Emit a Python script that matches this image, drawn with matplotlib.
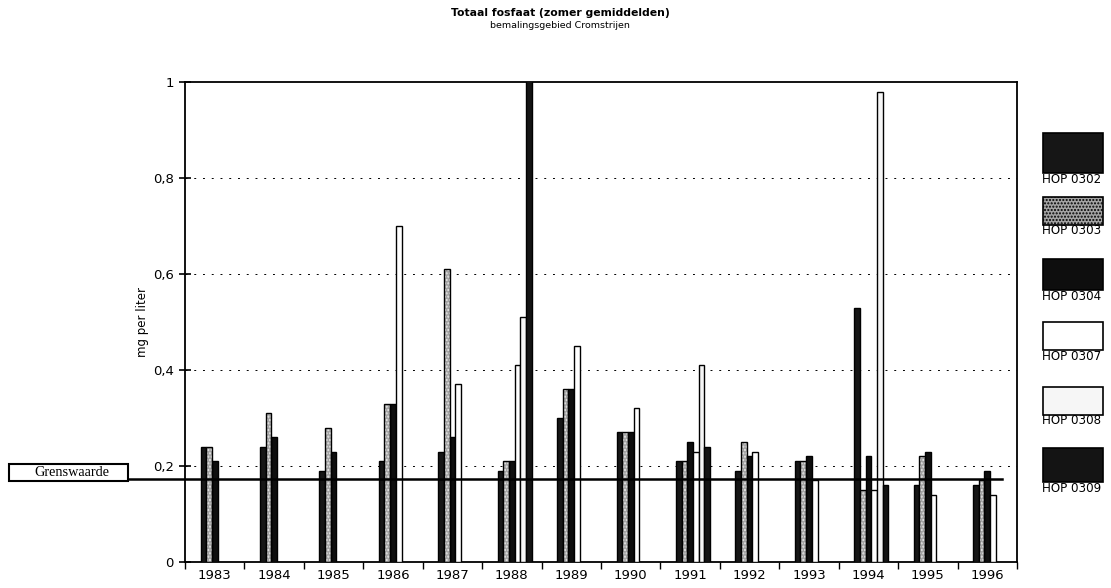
import numpy as np
import matplotlib
matplotlib.use("Agg")
import matplotlib.pyplot as plt
from matplotlib.patches import Rectangle

nan = np.nan
years = ['1983', '1984', '1985', '1986', '1987', '1988', '1989',
         '1990', '1991', '1992', '1993', '1994', '1995', '1996']
hop0302 = [0.24, 0.24, 0.19, 0.21, 0.23, 0.19, 0.30, 0.27, 0.21, 0.19, 0.21, 0.53, 0.16, 0.16]
hop0303 = [0.24, 0.31, 0.28, 0.33, 0.61, 0.21, 0.36, 0.27, 0.21, 0.25, 0.21, 0.15, 0.22, 0.17]
hop0304 = [0.21, 0.26, 0.23, 0.33, 0.26, 0.21, 0.36, 0.27, 0.25, 0.22, 0.22, 0.22, 0.23, 0.19]
hop0307 = [nan, nan, nan, 0.70, 0.37, 0.41, 0.45, 0.32, 0.23, 0.23, 0.17, 0.15, 0.14, 0.14]
hop0308 = [nan, nan, nan, nan, nan, 0.51, nan, nan, 0.41, nan, nan, 0.98, nan, nan]
hop0309 = [nan, nan, nan, nan, nan, 1.05, nan, nan, 0.24, nan, nan, 0.16, nan, nan]
grenswaarde = 0.173

series = [('HOP 0302', hop0302, '#161616'),
          ('HOP 0303', hop0303, '#a4a4a4'),
          ('HOP 0304', hop0304, '#0e0e0e'),
          ('HOP 0307', hop0307, '#ffffff'),
          ('HOP 0308', hop0308, '#f6f6f6'),
          ('HOP 0309', hop0309, '#141414')]

fig = plt.figure(figsize=(11.11, 5.88), dpi=100)
ax = fig.add_axes([185/1111, 26/588, 832/1111, 480/588])

x = np.arange(len(years))
w = 0.0955
for i, (name, vals, col) in enumerate(series):
    pos = x + (i - 2.5) * w
    if name == 'HOP 0303':
        # gespikkeld grijs
        ax.bar(pos, vals, w, align='edge', color=col, edgecolor='#e8e8e8',
               hatch='.....', linewidth=0, zorder=3)
        ax.bar(pos, vals, w, align='edge', fill=False, edgecolor='black',
               linewidth=1.0, zorder=4)
    else:
        ax.bar(pos, vals, w, align='edge', color=col, edgecolor='black',
               linewidth=1.0, zorder=3)

ax.set_xlim(-0.5, len(years) - 0.5)
ax.set_ylim(0, 1)
ax.set_yticks([0, 0.2, 0.4, 0.6, 0.8, 1])
ax.set_yticklabels(['0', '0,2', '0,4', '0,6', '0,8', '1'], fontsize=9.5)
ax.set_xticks(x)
ax.set_xticklabels(years, fontsize=9.5)
ax.set_xticks(np.arange(len(years) + 1) - 0.5, minor=True)
ax.tick_params(axis='x', which='major', length=0, pad=5)
ax.tick_params(axis='x', which='minor', direction='out', length=5, width=1)
ax.tick_params(axis='y', direction='inout', length=9, width=1.2)
for s in ax.spines.values():
    s.set_linewidth(1.3)

for v in [0.2, 0.4, 0.6, 0.8]:
    ax.axhline(v, color='black', linestyle=(0, (2, 7)), linewidth=0.7, zorder=1)

ax.set_ylabel('mg per liter', fontsize=8.5, labelpad=3)

# grenswaarde lijn en kader
ax.plot([-1.46, 13.25], [grenswaarde, grenswaarde], color='black', linewidth=1.8,
        clip_on=False, zorder=5)
fig.patches.append(Rectangle((9/1111, 1 - 481/588), 119/1111, 17/588,
                             facecolor='white', edgecolor='black', linewidth=1.5,
                             transform=fig.transFigure))
fig.text(72/1111, 1 - 472/588, 'Grenswaarde', family='Liberation Serif', fontsize=10.3,
         ha='center', va='center')

fig.text(560/1111, 1 - 13/588, 'Totaal fosfaat (zomer gemiddelden)', fontsize=7.8,
         fontweight='bold', ha='center', va='center')
fig.text(560/1111, 1 - 26/588, 'bemalingsgebied Cromstrijen', fontsize=6.8,
         ha='center', va='center')

# legenda
boxes = [(133, 173), (197, 225), (259, 290), (322, 350), (387, 415), (448, 482)]
for (name, vals, col), (y0, y1) in zip(series, boxes):
    fig.patches.append(Rectangle((1043/1111, 1 - y1/588), 60/1111, (y1 - y0)/588,
                                 facecolor=col, edgecolor='black', linewidth=1.2,
                                 hatch='.....' if name == 'HOP 0303' else None,
                                 transform=fig.transFigure))
    fig.text(1072/1111, 1 - (y1 + 6)/588, name, fontsize=8.6, ha='center',
             va='center', family='Liberation Sans Narrow')

fig.savefig('out.png', dpi=100)
